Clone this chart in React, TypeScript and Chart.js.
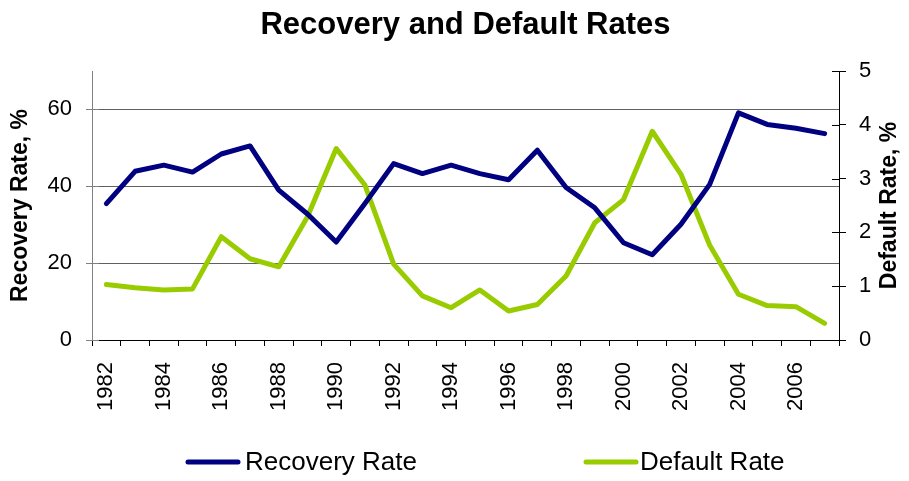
import React, { useEffect, useRef } from "react";
import { Chart, registerables } from "chart.js";

Chart.register(...registerables);

const years: string[] = [
  "1982", "1983", "1984", "1985", "1986", "1987", "1988", "1989", "1990", "1991",
  "1992", "1993", "1994", "1995", "1996", "1997", "1998", "1999", "2000", "2001",
  "2002", "2003", "2004", "2005", "2006", "2007",
];

const recoveryRate: number[] = [
  35.5, 43.9, 45.5, 43.7, 48.4, 50.5, 39.0, 32.8, 25.5, 35.5,
  45.9, 43.3, 45.5, 43.3, 41.7, 49.4, 39.7, 34.4, 25.3, 22.2,
  30.1, 40.5, 59.1, 56.1, 55.1, 53.7,
];

const defaultRate: number[] = [
  1.03, 0.97, 0.93, 0.95, 1.92, 1.51, 1.36, 2.29, 3.56, 2.88,
  1.41, 0.82, 0.6, 0.93, 0.54, 0.66, 1.19, 2.18, 2.61, 3.88,
  3.08, 1.76, 0.85, 0.64, 0.62, 0.31,
];

const seriesNames: string[] = ["Recovery Rate", "Default Rate"];
const seriesColors: string[] = ["#000080", "#99CC00"];
const chartTitle = "Recovery and Default Rates";
const leftAxisTitle = "Recovery Rate, %";
const rightAxisTitle = "Default Rate, %";

const FONT = "'Liberation Sans', Arial, sans-serif";

const innerTicks = {
  id: "innerTicks",
  afterDraw(chart: any) {
    const { ctx, chartArea } = chart;
    const yl = chart.scales.yL;
    const yr = chart.scales.yR;
    ctx.save();
    ctx.lineWidth = 1;
    ctx.strokeStyle = "#808080";
    yl.ticks.forEach((t: any) => {
      const y = Math.round(yl.getPixelForValue(t.value)) + 0.5;
      ctx.beginPath();
      ctx.moveTo(chartArea.left, y);
      ctx.lineTo(chartArea.left + 7, y);
      ctx.stroke();
    });
    ctx.strokeStyle = "#000000";
    yr.ticks.forEach((t: any) => {
      const y = Math.round(yr.getPixelForValue(t.value)) + 0.5;
      ctx.beginPath();
      ctx.moveTo(chartArea.right - 7, y);
      ctx.lineTo(chartArea.right, y);
      ctx.stroke();
    });
    // right axis title, reading bottom to top
    ctx.save();
    ctx.translate(890, (chartArea.top + chartArea.bottom) / 2);
    ctx.rotate(-Math.PI / 2);
    ctx.fillStyle = "#000";
    ctx.font = `bold 23px ${FONT}`;
    ctx.textAlign = "center";
    ctx.textBaseline = "middle";
    ctx.fillText(rightAxisTitle, 0, 0);
    ctx.restore();
    ctx.restore();
  },
};

const customLegend = {
  id: "customLegend",
  afterDraw(chart: any) {
    const { ctx } = chart;
    const items = [
      { lineX: 188, textX: 245 },
      { lineX: 586, textX: 640 },
    ];
    const y = 462;
    ctx.save();
    chart.data.datasets.forEach((ds: any, i: number) => {
      const it = items[i];
      ctx.strokeStyle = ds.borderColor;
      ctx.lineWidth = 5;
      ctx.lineCap = "round";
      ctx.beginPath();
      ctx.moveTo(it.lineX, y);
      ctx.lineTo(it.lineX + 50, y);
      ctx.stroke();
      ctx.fillStyle = "#000";
      ctx.font = `26px ${FONT}`;
      ctx.textAlign = "left";
      ctx.textBaseline = "middle";
      ctx.fillText(ds.label, it.textX, y + 1);
    });
    ctx.restore();
  },
};

export default function App() {
  const ref = useRef<HTMLCanvasElement | null>(null);

  useEffect(() => {
    document.body.style.margin = "0";
    const canvas = ref.current;
    if (!canvas) return;
    const chart = new Chart(canvas, {
      type: "line",
      data: {
        labels: years,
        datasets: [
          {
            label: seriesNames[0],
            data: recoveryRate,
            yAxisID: "yL",
            borderColor: seriesColors[0],
            backgroundColor: seriesColors[0],
            borderWidth: 5,
            pointRadius: 0,
            tension: 0,
            borderCapStyle: "round",
            borderJoinStyle: "round",
          },
          {
            label: seriesNames[1],
            data: defaultRate,
            yAxisID: "yR",
            borderColor: seriesColors[1],
            backgroundColor: seriesColors[1],
            borderWidth: 5,
            pointRadius: 0,
            tension: 0,
            borderCapStyle: "round",
            borderJoinStyle: "round",
          },
        ],
      },
      options: {
        responsive: false,
        animation: false,
        devicePixelRatio: 1,
        layout: { padding: { left: 0, right: 0, top: 0, bottom: 60 } },
        plugins: {
          legend: { display: false },
          tooltip: { enabled: false },
          title: {
            display: true,
            text: chartTitle,
            fullSize: false,
            color: "#000",
            font: { family: FONT, size: 31, weight: "bold" },
            padding: { top: 7, bottom: 26.8 },
          },
        },
        scales: {
          x: {
            type: "category",
            offset: true,
            grid: {
              offset: true,
              drawOnChartArea: false,
              drawTicks: true,
              tickLength: 6,
              color: "#000",
            },
            border: { display: true, color: "#000", width: 1 },
            ticks: {
              autoSkip: false,
              minRotation: 90,
              maxRotation: 90,
              padding: 16,
              color: "#000",
              font: { family: FONT, size: 22 },
              callback: (_v: any, i: number) => (i % 2 === 0 ? years[i] : ""),
            },
            afterFit: (s: any) => {
              s.height = 481 - 60 - 340;
            },
          },
          yL: {
            type: "linear",
            position: "left",
            min: 0,
            max: 70,
            grid: {
              drawOnChartArea: true,
              color: "#606060",
              tickColor: "#808080",
              tickLength: 6,
            },
            border: { display: true, color: "#808080", width: 1 },
            ticks: {
              stepSize: 20,
              includeBounds: false,
              padding: 14,
              color: "#000",
              font: { family: FONT, size: 22 },
            },
            title: {
              display: true,
              text: leftAxisTitle,
              color: "#000",
              font: { family: FONT, size: 23, weight: "bold" },
              padding: { top: 7, bottom: 0 },
            },
            afterFit: (s: any) => {
              s.width = 92;
            },
          },
          yR: {
            type: "linear",
            position: "right",
            min: 0,
            max: 5,
            grid: {
              drawOnChartArea: false,
              color: "#000",
              tickLength: 7,
            },
            border: { display: true, color: "#000", width: 1 },
            ticks: {
              stepSize: 1,
              padding: 13,
              color: "#000",
              font: { family: FONT, size: 22 },
            },
            title: { display: false },
            afterFit: (s: any) => {
              s.width = 70;
            },
          },
        },
      },
      plugins: [innerTicks, customLegend],
    });
    return () => chart.destroy();
  }, []);

  return (
    <div style={{ width: 909, height: 481, overflow: "hidden" }}>
      <canvas ref={ref} width={909} height={481} style={{ display: "block" }} />
    </div>
  );
}
